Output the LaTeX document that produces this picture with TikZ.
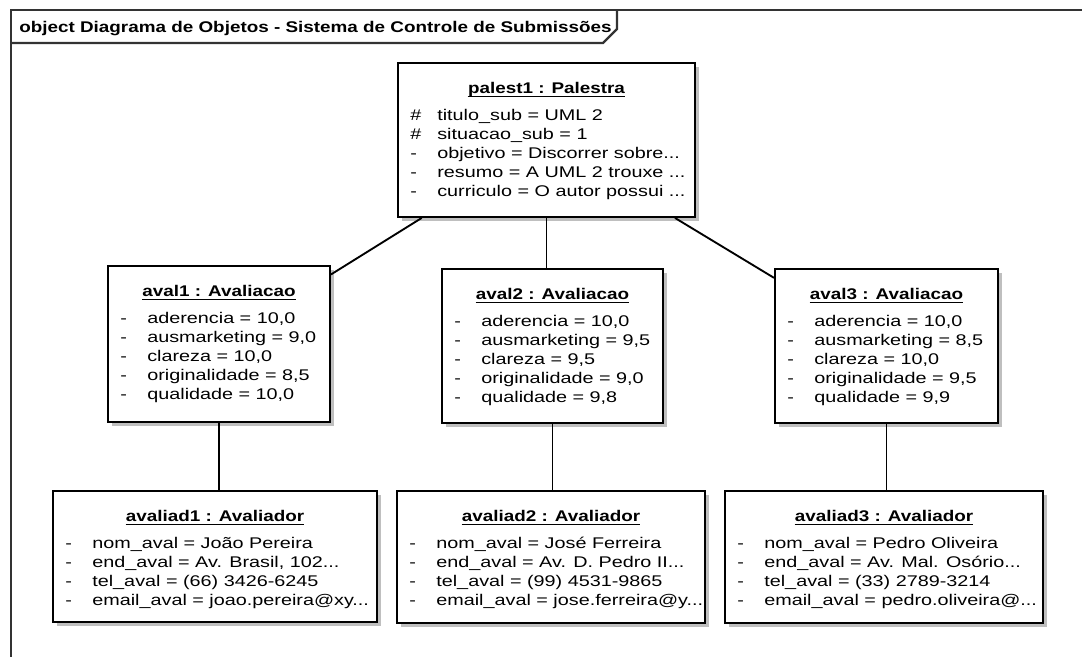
\documentclass[tikz,border=0pt]{standalone}
\usepackage{fontspec}
\setmainfont{Liberation Sans}[FakeStretch=1.28]
\newfontfamily\hdrfont{Liberation Sans}[FakeStretch=1.22]
\usetikzlibrary{calc,shadows}
\newcommand\elp{...}
\tikzset{
  objrect/.style={draw=black, line width=1.4pt, fill=white, inner sep=0pt,
    drop shadow={shadow xshift=3pt, shadow yshift=-3pt, fill=black!25, opacity=1}},
  txt/.style={inner sep=0pt, font=\fontsize{11.6pt}{14pt}\selectfont},
  hdr/.style={inner sep=0pt, font=\fontsize{11.6pt}{14pt}\hdrfont\bfseries},
  link/.style={line width=1.4pt, draw=black},
  ulline/.style={line width=0.9pt},
  framestyle/.style={line width=1.6pt, draw=black!80},
}
\newcommand\objbox[7]{%
  \node[objrect, minimum width={(#4-#2)*0.75pt}, minimum height={(#5-#3)*0.75pt}] (#1) at ({(#2+#4)/2},{(#3+#5)/2}) {};
  \node[hdr, anchor=base] (#1-h) at ($(#1.north)+(0,31)$) {#6};
  \draw[ulline] ([yshift=-2.6pt]#1-h.base west) -- ([yshift=-2.6pt]#1-h.base east);
  \foreach \rs/\rt [count=\ri] in {#7} {
    \node[txt, anchor=base west] (#1-s\ri) at ($(#1.north west)+(13,{58+19*(\ri-1)})$) {\rs};
    \node[txt, anchor=base west] (#1-t\ri) at ($(#1.north west)+(40,{58+19*(\ri-1)})$) {\rt};
  }%
}
\begin{document}
\begin{tikzpicture}[x=0.75pt, y=-0.75pt]
\useasboundingbox (0,0) rectangle (1082,657);
\fill[white] (0,0) rectangle (1082,657);
% frame
\draw[framestyle] (11,657) -- (11,10) -- (1082,10);
\draw[framestyle] (11,43) -- (603,43) -- (617,29) -- (617,10);
\node[hdr, anchor=base west] (title) at (19,32) {object Diagrama de Objetos - Sistema de Controle de Submissões};
% objects
\objbox{palest}{398}{63}{695}{217}{palest1 : Palestra}{%
  \#/titulo\_sub = UML 2,
  \#/situacao\_sub = 1,
  -/objetivo = Discorrer sobre\elp,
  -/resumo = A UML 2 trouxe \elp,
  -/curriculo = O autor possui \elp}
\objbox{avalA}{108}{266}{330}{422}{aval1 : Avaliacao}{%
  -/aderencia = 10{,}0,
  -/ausmarketing = 9{,}0,
  -/clareza = 10{,}0,
  -/originalidade = 8{,}5,
  -/qualidade = 10{,}0}
\objbox{avalB}{442}{269}{663}{423}{aval2 : Avaliacao}{%
  -/aderencia = 10{,}0,
  -/ausmarketing = 9{,}5,
  -/clareza = 9{,}5,
  -/originalidade = 9{,}0,
  -/qualidade = 9{,}8}
\objbox{avalC}{775}{269}{998}{423}{aval3 : Avaliacao}{%
  -/aderencia = 10{,}0,
  -/ausmarketing = 8{,}5,
  -/clareza = 10{,}0,
  -/originalidade = 9{,}5,
  -/qualidade = 9{,}9}
\objbox{avdA}{53}{491}{377}{622}{avaliad1 : Avaliador}{%
  -/nom\_aval = João Pereira,
  -/end\_aval = Av. Brasil{,} 102\elp,
  -/tel\_aval = (66) 3426-6245,
  -/email\_aval = joao.pereira@xy\elp}
\objbox{avdB}{397}{491}{705}{623}{avaliad2 : Avaliador}{%
  -/nom\_aval = José Ferreira,
  -/end\_aval = Av. D. Pedro II\elp,
  -/tel\_aval = (99) 4531-9865,
  -/email\_aval = jose.ferreira@y\elp}
\objbox{avdC}{725}{491}{1043}{623}{avaliad3 : Avaliador}{%
  -/nom\_aval = Pedro Oliveira,
  -/end\_aval = Av. Mal. Osório\elp,
  -/tel\_aval = (33) 2789-3214,
  -/email\_aval = pedro.oliveira@\elp}
% links
\draw[link] (palest) -- (avalA);
\draw[link] (palest) -- (avalC);
\draw[link] (palest.south) -- (palest.south |- avalB.north);
\draw[link] (avalA.south) -- (avalA.south |- avdA.north);
\draw[link] (avalB.south) -- (avalB.south |- avdB.north);
\draw[link] (avalC.south) -- (avalC.south |- avdC.north);
\end{tikzpicture}
\end{document}
